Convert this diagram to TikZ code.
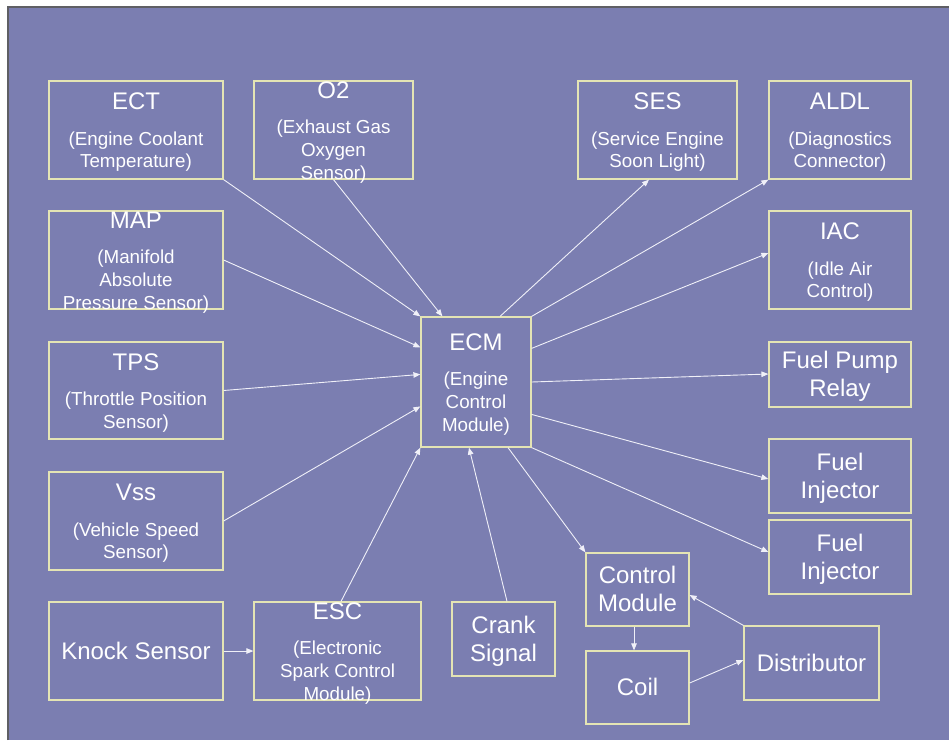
\documentclass[tikz,border=0pt]{standalone}
\usepackage{fontspec}
\setmainfont{Liberation Sans}
\usetikzlibrary{arrows.meta}
\definecolor{slidebg}{RGB}{123,126,177}
\definecolor{boxline}{RGB}{228,228,180}
\definecolor{arrowc}{RGB}{240,240,248}
\definecolor{framec}{RGB}{95,95,100}
\newcommand{\cttl}[1]{{\fontsize{24}{28}\selectfont\rule{0pt}{21.7pt}#1}}
\newcommand{\dscS}{\rule[-4pt]{0pt}{4pt}}
\newcommand{\ascB}{\rule{0pt}{21.7pt}}
\newcommand{\dscB}{\rule[-5.1pt]{0pt}{5.1pt}}
\begin{document}
\begin{tikzpicture}[x=1pt,y=-1pt,
  box/.style args={#1/#2}{draw=boxline, line width=1.2pt, minimum width=#1pt, minimum height=#2pt, inner sep=0pt},
  txs/.style={font=\fontsize{18.8}{22.7}\selectfont, align=center, inner sep=0pt, text=white},
  txb/.style={font=\fontsize{24}{28}\selectfont, align=center, inner sep=0pt, text=white},
  conn/.style={draw=arrowc, line width=0.9pt, -{Triangle[length=7pt,width=5.5pt]}}]
\useasboundingbox (0,0) rectangle (949,740);
\fill[white] (0,0) rectangle (949,740);
\fill[slidebg] (8,7) rectangle (949,740);
\draw[framec, line width=1.2pt] (8,740) -- (8,7) -- (949,7);

% left column
\node[box=174/98, label={[txs]center:{\cttl{ECT}\\[12.8pt](Engine Coolant\\Temperature)\dscS}}] (ECT) at (136,130) {};
\node[box=159/98, label={[txs]center:{\cttl{O2}\\[12.8pt](Exhaust Gas\\Oxygen\\Sensor)\dscS}}] (O2) at (333.5,130) {};
\node[box=174/98, label={[txs]center:{\cttl{MAP}\\[12.8pt](Manifold\\Absolute\\Pressure Sensor)\dscS}}] (MAP) at (136,260) {};
\node[box=174/97, label={[txs]center:{\cttl{TPS}\\[12.8pt](Throttle Position\\Sensor)\dscS}}] (TPS) at (136,390.5) {};
\node[box=174/98, label={[txs]center:{\cttl{Vss}\\[12.8pt](Vehicle Speed\\Sensor)\dscS}}] (Vss) at (136,521) {};
\node[box=174/98, label={[txb]center:{\ascB Knock Sensor\dscB}}] (Knock) at (136,651) {};
\node[box=167/98, label={[txs]center:{\cttl{ESC}\\[12.8pt](Electronic\\Spark Control\\Module)\dscS}}] (ESC) at (337.5,651) {};
\node[box=103/74, label={[txb]center:{\ascB Crank\\Signal\dscB}}] (Crank) at (503.5,639) {};

% centre
\node[box=110/130, label={[txs]center:{\cttl{ECM}\\[12.8pt](Engine\\Control\\Module)\dscS}}] (ECM) at (476,382) {};

% right column
\node[box=159/98, label={[txs]center:{\cttl{SES}\\[12.8pt](Service Engine\\Soon Light)\dscS}}] (SES) at (657.5,130) {};
\node[box=142/98, label={[txs]center:{\cttl{ALDL}\\[12.8pt](Diagnostics\\Connector)\dscS}}] (ALDL) at (840,130) {};
\node[box=142/98, label={[txs]center:{\cttl{IAC}\\[12.8pt](Idle Air\\Control)\dscS}}] (IAC) at (840,260) {};
\node[box=142/65, label={[txb]center:{\ascB Fuel Pump\\Relay\dscB}}] (FPR) at (840,374.5) {};
\node[box=142/74, label={[txb]center:{\ascB Fuel\\Injector\dscB}}] (FI1) at (840,476) {};
\node[box=142/74, label={[txb]center:{\ascB Fuel\\Injector\dscB}}] (FI2) at (840,557) {};
\node[box=103/73, label={[txb]center:{\ascB Control\\Module\dscB}}] (CM) at (637.5,589.5) {};
\node[box=103/73, label={[txb]center:{\ascB Coil\dscB}}] (Coil) at (637.5,687.5) {};
\node[box=135/74, label={[txb]center:{\ascB Distributor\dscB}}] (Dist) at (811.5,663) {};

% inputs to ECM
\draw[conn] (ECT.south east) -- (ECM.north west);
\draw[conn] (O2.south) -- ([xshift=22pt]ECM.north west);
\draw[conn] (MAP.east) -- ([yshift=-31pt]ECM.north west);
\draw[conn] (TPS.east) -- ([yshift=-58pt]ECM.north west);
\draw[conn] (Vss.east) -- ([yshift=-90pt]ECM.north west);
\draw[conn] ([xshift=3.5pt]ESC.north) -- (ECM.south west);
\draw[conn] ([xshift=3.5pt]Crank.north) -- ([xshift=-7pt]ECM.south);
\draw[conn] (Knock.east) -- (ESC.west);

% outputs from ECM
\draw[conn] ([xshift=24pt]ECM.north) -- ([xshift=-8.5pt]SES.south);
\draw[conn] (ECM.north east) -- (ALDL.south west);
\draw[conn] ([yshift=-32pt]ECM.north east) -- ([yshift=7pt]IAC.west);
\draw[conn] (ECM.east) -- ([yshift=0.5pt]FPR.west);
\draw[conn] ([yshift=-98pt]ECM.north east) -- ([yshift=-3pt]FI1.west);
\draw[conn] (ECM.south east) -- ([yshift=5pt]FI2.west);
\draw[conn] ([xshift=32pt]ECM.south) -- (CM.north west);

% ignition loop
\draw[conn] ([xshift=-3.5pt]CM.south) -- ([xshift=-3.5pt]Coil.north);
\draw[conn] (Dist.north west) -- ([yshift=-5.5pt]CM.east);
\draw[conn] ([yshift=4.5pt]Coil.east) -- ([yshift=3pt]Dist.west);
\end{tikzpicture}
\end{document}
